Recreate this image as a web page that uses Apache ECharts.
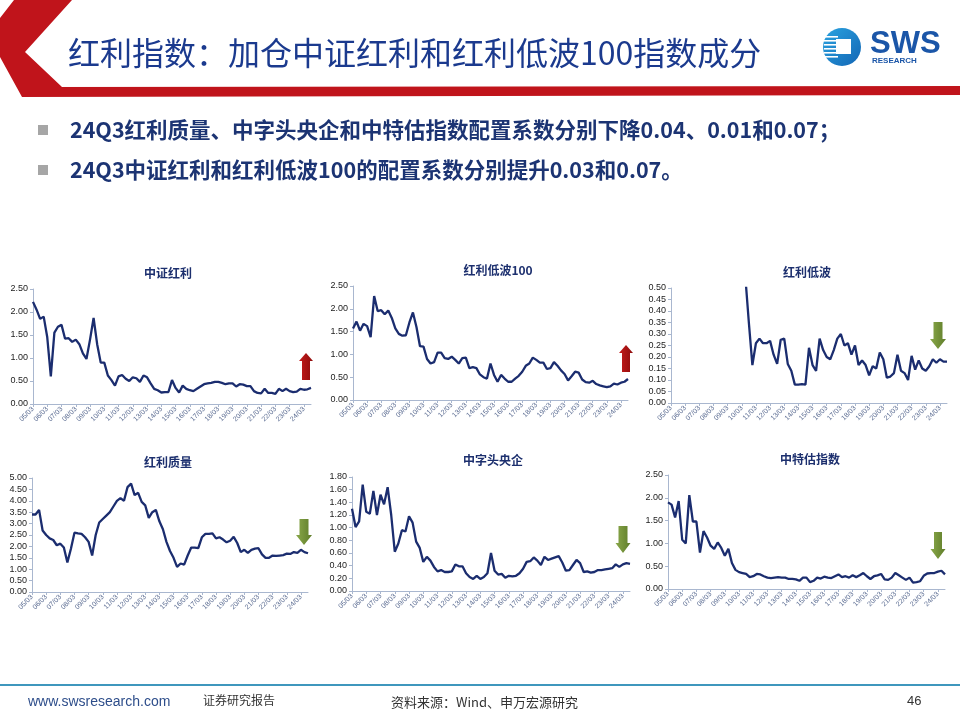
<!DOCTYPE html>
<html><head><meta charset="utf-8">
<script src="https://cdn.jsdelivr.net/npm/echarts@6/dist/echarts.min.js"></script>
<style>html,body{margin:0;padding:0;background:#fff}#c{width:960px;height:720px}</style>
</head><body><div id="c"></div>
<script>
const years = ['05','06','07','08','09','10','11','12','13','14','15','16','17','18','19','20','21','22','23','24'];
const months = ['03','06','09','12'];
const categories = [];
years.forEach(y => months.forEach(m => { if (!(y === '24' && m === '12')) categories.push(y + '/' + m); }));

const chartTitles = ['中证红利', '红利低波100', '红利低波', '红利质量', '中字头央企', '中特估指数'];

const zzhl = [2.22,2.05,1.85,1.9,1.45,0.6,1.55,1.68,1.72,1.42,1.43,1.35,1.4,1.3,1.1,0.98,1.4,1.87,1.3,0.9,
  0.9,0.62,0.52,0.4,0.6,0.63,0.55,0.5,0.58,0.56,0.48,0.62,0.58,0.45,0.33,0.3,0.25,0.26,0.26,0.52,
  0.35,0.25,0.4,0.33,0.3,0.28,0.33,0.38,0.43,0.45,0.46,0.48,0.48,0.46,0.43,0.45,0.45,0.38,0.43,0.42,
  0.39,0.39,0.28,0.24,0.23,0.33,0.24,0.24,0.22,0.33,0.28,0.33,0.28,0.26,0.27,0.33,0.31,0.32,0.35];
const hldb100 = [1.57,1.72,1.52,1.67,1.62,1.38,2.28,1.95,1.97,1.88,1.96,1.8,1.57,1.45,1.41,1.42,1.7,1.92,1.6,1.18,
  1.17,0.9,0.8,0.83,1.04,1.04,0.92,0.9,0.95,0.88,0.8,0.92,0.93,0.7,0.72,0.7,0.56,0.5,0.47,0.8,
  0.55,0.4,0.55,0.47,0.4,0.4,0.47,0.53,0.62,0.75,0.8,0.93,0.88,0.82,0.82,0.68,0.7,0.83,0.75,0.65,
  0.57,0.43,0.52,0.62,0.6,0.45,0.39,0.38,0.42,0.35,0.32,0.3,0.28,0.3,0.36,0.34,0.38,0.4,0.46];
const hldb = [null,null,null,null,null,null,null,null,null,null,null,null,null,null,null,null,null,null,null,null,
  null,0.55,0.35,0.165,0.26,0.28,0.26,0.26,0.27,0.21,0.17,0.275,0.28,0.17,0.14,0.08,0.08,0.082,0.08,0.24,
  0.165,0.14,0.28,0.23,0.2,0.19,0.23,0.28,0.3,0.25,0.26,0.21,0.25,0.165,0.185,0.165,0.12,0.16,0.15,0.22,
  0.19,0.11,0.115,0.13,0.21,0.14,0.13,0.1,0.205,0.145,0.185,0.15,0.14,0.16,0.19,0.175,0.19,0.18,0.18];
const hlzl = [3.4,3.4,3.6,2.7,2.5,2.35,2.28,2.05,2.12,1.95,1.3,1.9,2.6,2.57,2.55,2.4,2.2,1.6,2.5,3.05,
  3.2,3.35,3.5,3.75,4.0,4.12,4.0,4.6,4.75,4.25,4.35,3.95,3.8,3.25,3.5,3.6,3.1,2.75,2.2,1.8,
  1.5,1.1,1.25,1.2,1.6,1.95,1.95,1.92,2.4,2.55,2.55,2.57,2.35,2.4,2.3,2.18,2.25,2.42,2.15,1.75,
  1.85,1.72,1.85,1.9,1.92,1.65,1.5,1.5,1.6,1.58,1.6,1.62,1.68,1.67,1.75,1.72,1.85,1.75,1.7];
const zztyq = [1.3,1.01,1.1,1.68,1.25,1.22,1.58,1.2,1.52,1.37,1.64,1.2,0.62,0.75,0.96,0.94,1.18,1.08,0.78,0.68,
  0.46,0.54,0.48,0.38,0.31,0.33,0.3,0.3,0.31,0.42,0.39,0.39,0.28,0.22,0.19,0.24,0.19,0.22,0.28,0.6,
  0.32,0.26,0.27,0.21,0.24,0.23,0.24,0.28,0.35,0.46,0.47,0.53,0.48,0.41,0.54,0.49,0.51,0.53,0.55,0.45,
  0.32,0.33,0.41,0.49,0.44,0.3,0.31,0.29,0.3,0.33,0.33,0.34,0.35,0.36,0.42,0.38,0.42,0.44,0.43];
const ztgzs = [1.9,1.85,1.57,1.93,1.08,1.0,2.06,1.48,1.48,0.8,1.27,1.13,0.95,0.88,1.02,0.9,0.73,0.88,0.57,0.42,
  0.37,0.35,0.33,0.26,0.28,0.33,0.32,0.28,0.25,0.24,0.25,0.26,0.25,0.25,0.22,0.22,0.21,0.18,0.25,0.25,
  0.15,0.18,0.25,0.23,0.27,0.25,0.24,0.28,0.32,0.26,0.28,0.25,0.3,0.26,0.3,0.35,0.28,0.22,0.28,0.3,
  0.33,0.21,0.2,0.25,0.35,0.3,0.25,0.2,0.25,0.14,0.15,0.17,0.29,0.34,0.35,0.35,0.38,0.4,0.32];

const seriesData = [zzhl, hldb100, hldb, hlzl, zztyq, ztgzs];
const yMax = [2.5, 2.5, 0.5, 5.0, 1.8, 2.5];
const yStep = [0.5, 0.5, 0.05, 0.5, 0.2, 0.5];

const grids = [
  {left:33, top:289, width:278, height:115},
  {left:353, top:286, width:275, height:114},
  {left:671, top:288, width:276, height:115},
  {left:32, top:478, width:276, height:114},
  {left:352, top:477, width:278, height:114},
  {left:668, top:475, width:277, height:114}
];
const titlePos = [[168,273],[498,270],[807,272],[168,462],[493,460],[810,459]];

const CJK = '"Noto Sans CJK SC", sans-serif';
const LAT = '"Liberation Sans", Arial, sans-serif';
const axisColor = '#a9b7cf';
const lineColor = '#1b2d6f';

const xAxis = [], yAxis = [], series = [];
grids.forEach((g, i) => {
  xAxis.push({
    type: 'category', gridIndex: i, data: categories, boundaryGap: false,
    axisLine: {lineStyle: {color: axisColor, width: 1}},
    axisTick: {show: true, interval: 3, length: 3, lineStyle: {color: axisColor}},
    axisLabel: {interval: 3, rotate: 45, fontSize: 7, color: '#5b6c92', fontFamily: LAT, margin: 4}
  });
  yAxis.push({
    type: 'value', gridIndex: i, min: 0, max: yMax[i], interval: yStep[i],
    axisLine: {show: true, lineStyle: {color: axisColor, width: 1}},
    axisTick: {show: true, length: 3, lineStyle: {color: axisColor}},
    splitLine: {show: false},
    axisLabel: {fontSize: 9, color: '#222', fontFamily: LAT, margin: 5, formatter: v => v.toFixed(2)}
  });
  series.push({
    type: 'line', xAxisIndex: i, yAxisIndex: i, data: seriesData[i], showSymbol: false,
    connectNulls: false, clip: true, silent: true,
    lineStyle: {color: lineColor, width: 2.3}, itemStyle: {color: lineColor}
  });
});

const graphic = [];
graphic.push({type: 'polygon', shape: {points: [[14,0],[72,0],[25,52],[62,87],[960,86],[960,95],[22,97],[0,57],[0,18]]},
  style: {fill: '#c0141b'}, z: 1});
graphic.push({type: 'text', style: {x: 68, y: 53, text: '红利指数：加仓中证红利和红利低波100指数成分',
  font: '32px ' + CJK, fill: '#1b3a8e', verticalAlign: 'middle'}});
graphic.push({type: 'circle', shape: {cx: 842, cy: 47, r: 19},
  style: {fill: new echarts.graphic.LinearGradient(0,0,1,1,[{offset:0,color:'#2aa3e0'},{offset:1,color:'#1366b5'}])}});
[36,40,44,48,52,56].forEach(y => graphic.push({type: 'rect', shape: {x: 824, y: y, width: 14, height: 1.6}, style: {fill: '#ffffff'}}));
graphic.push({type: 'rect', shape: {x: 836, y: 39, width: 15, height: 15}, style: {fill: '#ffffff'}});
graphic.push({type: 'text', style: {x: 870, y: 44, text: 'SWS', font: 'bold 31px ' + LAT, fill: '#1b56a8', verticalAlign: 'middle'}});
graphic.push({type: 'text', style: {x: 872, y: 61, text: 'RESEARCH', font: 'bold 8px ' + LAT, fill: '#1b56a8', verticalAlign: 'middle'}});
const bullets = ['24Q3红利质量、中字头央企和中特估指数配置系数分别下降0.04、0.01和0.07；', '24Q3中证红利和红利低波100的配置系数分别提升0.03和0.07。'];
bullets.forEach((t, i) => {
  const y = 130 + i * 40;
  graphic.push({type: 'rect', shape: {x: 38, y: y - 5, width: 10, height: 10}, style: {fill: '#a6a6a6'}});
  graphic.push({type: 'text', style: {x: 70, y: y, text: t, font: 'bold 21.5px ' + CJK, fill: '#1c3473', verticalAlign: 'middle'}});
});
chartTitles.forEach((t, i) => graphic.push({type: 'text', style: {x: titlePos[i][0], y: titlePos[i][1], text: t,
  font: 'bold 12px ' + CJK, fill: '#1c2f6e', align: 'center', verticalAlign: 'middle'}}));
function upArrow(cx, tip, bottom, hw, sw, head) {
  return {type: 'polygon', shape: {points: [[cx, tip],[cx+hw, tip+head],[cx+sw, tip+head],[cx+sw, bottom],[cx-sw, bottom],[cx-sw, tip+head],[cx-hw, tip+head]]},
    style: {fill: new echarts.graphic.LinearGradient(0,0,1,0,[{offset:0,color:'#c41a1a'},{offset:1,color:'#8e0c0c'}])}, z: 10};
}
function downArrow(cx, top, tip, hw, sw, head) {
  return {type: 'polygon', shape: {points: [[cx-sw, top],[cx+sw, top],[cx+sw, tip-head],[cx+hw, tip-head],[cx, tip],[cx-hw, tip-head],[cx-sw, tip-head]]},
    style: {fill: new echarts.graphic.LinearGradient(0,0,1,0,[{offset:0,color:'#8aa84a'},{offset:1,color:'#5f7d2a'}])}, z: 10};
}
graphic.push(upArrow(306, 353, 380, 7, 4, 8));
graphic.push(upArrow(626, 345, 372, 7, 4, 8));
graphic.push(downArrow(938, 322, 349, 8, 4.5, 10));
graphic.push(downArrow(304, 519, 545, 8, 4.5, 10));
graphic.push(downArrow(623, 526, 553, 7.5, 4.5, 10));
graphic.push(downArrow(938, 532, 559, 7.5, 4, 10));
graphic.push({type: 'rect', shape: {x: 0, y: 684, width: 960, height: 2}, style: {fill: '#3f97bd'}});
graphic.push({type: 'text', style: {x: 28, y: 702, text: 'www.swsresearch.com', font: '14px ' + LAT, fill: '#2d4d8a', verticalAlign: 'middle'}});
graphic.push({type: 'text', style: {x: 203, y: 700, text: '证券研究报告', font: '12px ' + CJK, fill: '#333', verticalAlign: 'middle'}});
graphic.push({type: 'text', style: {x: 391, y: 702, text: '资料来源：Wind、申万宏源研究', font: '13px ' + CJK, fill: '#333', verticalAlign: 'middle'}});
graphic.push({type: 'text', style: {x: 907, y: 701, text: '46', font: '13px ' + LAT, fill: '#333', verticalAlign: 'middle'}});

const chart = echarts.init(document.getElementById('c'), null, {renderer: 'canvas'});
chart.setOption({
  animation: false,
  backgroundColor: '#ffffff',
  grid: grids.map(g => Object.assign({containLabel: false}, g)),
  xAxis: xAxis, yAxis: yAxis, series: series, graphic: graphic
});
</script></body></html>
